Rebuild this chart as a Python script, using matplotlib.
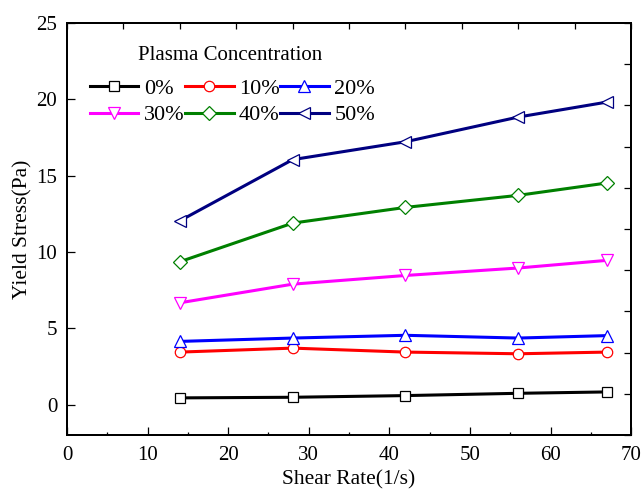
import matplotlib
matplotlib.use("Agg")
import matplotlib.pyplot as plt
from matplotlib.ticker import MultipleLocator, NullFormatter

plt.rcParams['font.family'] = ['Liberation Serif', 'DejaVu Serif']

shear_rate = [14, 28, 42, 56, 67]
labels = ['0%', '10%', '20%', '30%', '40%', '50%']
stress_0 = [0.44, 0.48, 0.59, 0.74, 0.83]
stress_10 = [3.44, 3.70, 3.44, 3.33, 3.44]
stress_20 = [4.14, 4.36, 4.54, 4.36, 4.52]
stress_30 = [6.67, 7.89, 8.46, 8.95, 9.45]
stress_40 = [9.36, 11.89, 12.92, 13.71, 14.52]
stress_50 = [12.04, 16.05, 17.22, 18.84, 19.82]

series = [stress_0, stress_10, stress_20, stress_30, stress_40, stress_50]
colors = ['black', 'red', 'blue', 'magenta', 'green', 'navy']
markers = ['s', 'o', '^', 'v', 'D', '<']
sizes = [6.5, 7.5, 8.5, 8.5, 7.5, 8.5]

fig = plt.figure(figsize=(6.44, 4.90), dpi=100)
ax = fig.add_axes([0.104, 0.112, 0.876, 0.841])

handles = []
for ys, c, m, ms, lab in zip(series, colors, markers, sizes, labels):
    h, = ax.plot(shear_rate, ys, color=c, lw=2.2, marker=m, ms=ms,
                 mfc='white', mec=c, mew=0.9, label=lab, zorder=3)
    handles.append(h)

ax.set_xlim(0, 70)
ax.set_ylim(-2, 25)
ax.xaxis.set_major_locator(MultipleLocator(10))
ax.xaxis.set_minor_locator(MultipleLocator(5))
ax.yaxis.set_major_locator(MultipleLocator(5))
ax.tick_params(which='both', direction='in', width=0.9)
ax.tick_params(which='major', length=6, labelsize=15)
ax.tick_params(axis='x', which='major', pad=7.5)
ax.tick_params(axis='y', which='major', pad=7)
ax.tick_params(which='minor', length=2)
for s in ax.spines.values():
    s.set_linewidth(1.4)

# mirrored top/right axes with evenly spaced unlabeled ticks
axt = ax.twiny()
axt.set_xlim(0, 10)
axt.xaxis.set_major_locator(MultipleLocator(1))
axt.xaxis.set_major_formatter(NullFormatter())
axt.tick_params(axis='x', direction='in', length=4.5, width=0.9)
axr = ax.twinx()
axr.set_ylim(0, 10)
axr.yaxis.set_major_locator(MultipleLocator(1))
axr.yaxis.set_major_formatter(NullFormatter())
axr.tick_params(axis='y', direction='in', length=5, width=0.9)
for a in (axt, axr):
    for s in a.spines.values():
        s.set_linewidth(1.4)

ax.set_xlabel('Shear Rate(1/s)', fontsize=15.5, labelpad=4)
ax.set_ylabel('Yield Stress(Pa)', fontsize=15.5, labelpad=3)

ax.text(0.29, 0.922, 'Plasma Concentration', transform=ax.transAxes,
        ha='center', va='center', fontsize=15)

order = [0, 3, 1, 4, 2, 5]
leg = axr.legend([handles[i] for i in order], [labels[i] for i in order],
                 ncol=3, loc='upper left', bbox_to_anchor=(0.04, 0.865),
                 bbox_transform=ax.transAxes,
                 frameon=False, fontsize=16, handlelength=2.2,
                 handletextpad=0.25, columnspacing=0.0, labelspacing=0.25,
                 borderaxespad=0.0, borderpad=0.0)

fig.savefig('out.png', dpi=100)
